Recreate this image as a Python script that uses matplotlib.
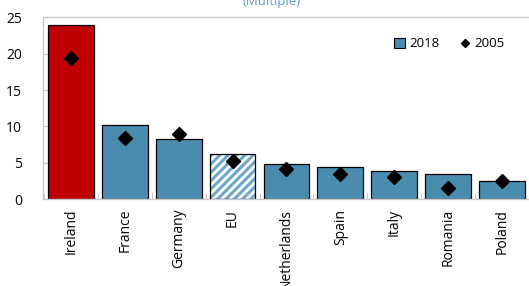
import numpy as np
import matplotlib.pyplot as plt
from matplotlib.patches import Patch
from matplotlib.lines import Line2D

plt.rcParams['font.family'] = ['Open Sans', 'DejaVu Sans']
plt.rcParams['hatch.linewidth'] = 2.2

countries = ["Ireland", "France", "Germany", "EU", "Netherlands", "Spain", "Italy", "Romania", "Poland"]
v2018 = [24.0, 10.2, 8.2, 6.2, 4.8, 4.4, 3.9, 3.4, 2.5]
v2005 = [19.4, 8.4, 9.0, 5.2, 4.2, 3.5, 3.0, 1.5, 2.5]

blue = "#4A8CAE"
red = "#C00000"

fig = plt.figure(figsize=(5.29, 2.86), dpi=100)
ax = fig.add_axes([0.081, 0.304, 0.919, 0.635])

x = np.arange(len(countries))
w = 0.85
cols = [red] + [blue] * (len(countries) - 1)
for i, c in enumerate(countries):
    if c == "EU":
        ax.bar(x[i], v2018[i], w, color="white", edgecolor="#6FA6CC", hatch="////", linewidth=0, zorder=2)
        ax.bar(x[i], v2018[i], w, fill=False, edgecolor="black", linewidth=0.9, zorder=3)
    else:
        ax.bar(x[i], v2018[i], w, color=cols[i], edgecolor="black", linewidth=0.9, zorder=2)
ax.plot(x, v2005, linestyle="none", marker="D", color="black", markersize=7, zorder=4)

ax.set_xlim(-0.52, 8.5)
ax.set_ylim(0, 25)
ax.set_yticks([0, 5, 10, 15, 20, 25])
ax.set_xticks(x)
ax.set_xticklabels(countries, rotation=90, fontsize=10)
ax.set_xticks(np.arange(-0.5, 9, 1), minor=True)
ax.tick_params(axis="x", which="major", length=0, pad=7)
ax.tick_params(axis="x", which="minor", direction="in", length=4, color="#BBBBBB")
ax.tick_params(axis="y", direction="in", length=4, color="#C8C8C8", labelsize=10, pad=15)
for s in ax.spines.values():
    s.set_color("#C8C8C8")
    s.set_linewidth(1)
ax.spines["right"].set_visible(False)

handles = [Patch(facecolor=blue, edgecolor="black", linewidth=0.8),
           Line2D([], [], linestyle="none", marker="D", color="black", markersize=4)]
ax.legend(handles, ["2018", "2005"], ncol=2, frameon=False, loc="upper right",
          bbox_to_anchor=(0.975, 0.955), fontsize=9.5, handlelength=0.8, handleheight=0.8,
          handletextpad=0.3, columnspacing=1.6)

fig.text(272 / 529, 0.995, "(Multiple)", color="#5B9BD5", fontsize=9.5, ha="center", va="center")

fig.savefig("out.png", dpi=100)
